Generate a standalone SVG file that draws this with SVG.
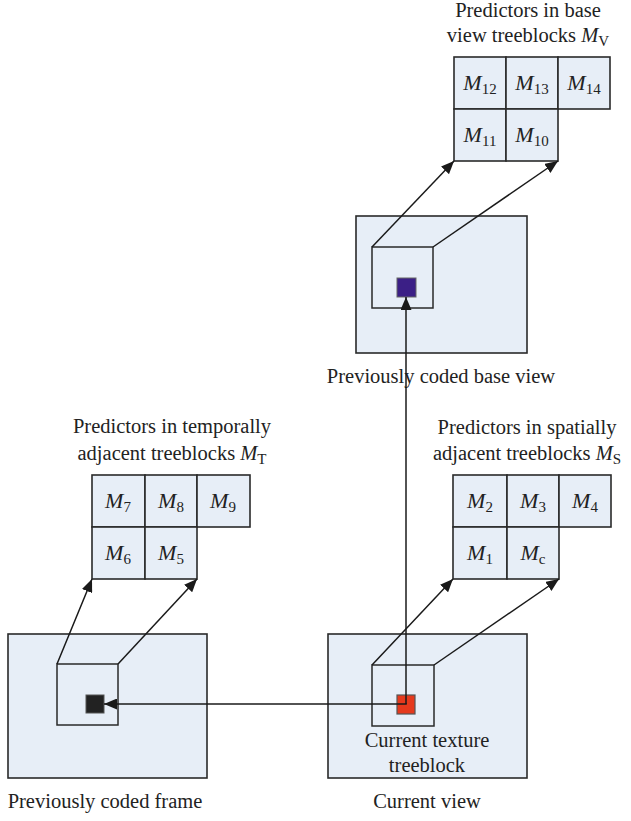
<svg xmlns="http://www.w3.org/2000/svg" width="631" height="821" viewBox="0 0 631 821">
  <defs>
    <marker id="arrow" viewBox="0 0 13 11" refX="13" refY="5.5" markerWidth="13" markerHeight="11" markerUnits="userSpaceOnUse" orient="auto">
      <path d="M0,0 L13,5.5 L0,11 Z" fill="#1a1a1a"/>
    </marker>
  </defs>
  <style>
    text { font-family: "Liberation Serif", "DejaVu Serif", serif; fill: #222; }
    .lbl { font-size: 20.5px; text-anchor: middle; }
    .m { font-size: 22px; text-anchor: middle; }
    .it { font-style: italic; }
    .sub { font-size: 15px; }
    .frame { fill: #e7eef7; stroke: #2a2a2a; stroke-width: 1.6; }
    .cell { fill: #e7eef7; stroke: #2a2a2a; stroke-width: 1.6; }
    .inner { fill: none; stroke: #2a2a2a; stroke-width: 1.5; }
    .conn { fill: none; stroke: #1a1a1a; stroke-width: 1.5; }
  </style>
  <rect width="631" height="821" fill="#ffffff"/>

  <!-- Base view predictor grid -->
  <g id="grid-base">
    <text class="lbl" x="528" y="17">Predictors in base</text>
    <text class="lbl" x="528" y="42">view treeblocks <tspan class="it">M</tspan><tspan class="sub" dy="4">V</tspan></text>
    <rect class="cell" x="454" y="57" width="52" height="52"/>
    <rect class="cell" x="506" y="57" width="52" height="52"/>
    <rect class="cell" x="558" y="57" width="52" height="52"/>
    <rect class="cell" x="454" y="109" width="52" height="52"/>
    <rect class="cell" x="506" y="109" width="52" height="52"/>
    <text class="m" x="480" y="90"><tspan class="it">M</tspan><tspan class="sub" dy="4">12</tspan></text>
    <text class="m" x="532" y="90"><tspan class="it">M</tspan><tspan class="sub" dy="4">13</tspan></text>
    <text class="m" x="584" y="90"><tspan class="it">M</tspan><tspan class="sub" dy="4">14</tspan></text>
    <text class="m" x="480" y="142"><tspan class="it">M</tspan><tspan class="sub" dy="4">11</tspan></text>
    <text class="m" x="532" y="142"><tspan class="it">M</tspan><tspan class="sub" dy="4">10</tspan></text>
  </g>

  <!-- Previously coded base view -->
  <g id="frame-base">
    <rect class="frame" x="356" y="216" width="171" height="137"/>
    <rect class="inner" x="372" y="247" width="61" height="61"/>
    <rect x="397" y="278" width="19" height="19" fill="#3b1f86" stroke="#666" stroke-width="1"/>
    <text class="lbl" x="441" y="383">Previously coded base view</text>
  </g>

  <!-- Temporally adjacent predictor grid -->
  <g id="grid-temporal">
    <text class="lbl" x="172" y="433">Predictors in temporally</text>
    <text class="lbl" x="172" y="460">adjacent treeblocks <tspan class="it">M</tspan><tspan class="sub" dy="4">T</tspan></text>
    <rect class="cell" x="92" y="475" width="53" height="52"/>
    <rect class="cell" x="145" y="475" width="52" height="52"/>
    <rect class="cell" x="197" y="475" width="53" height="52"/>
    <rect class="cell" x="92" y="527" width="53" height="52"/>
    <rect class="cell" x="145" y="527" width="52" height="52"/>
    <text class="m" x="118" y="508"><tspan class="it">M</tspan><tspan class="sub" dy="4">7</tspan></text>
    <text class="m" x="171" y="508"><tspan class="it">M</tspan><tspan class="sub" dy="4">8</tspan></text>
    <text class="m" x="223" y="508"><tspan class="it">M</tspan><tspan class="sub" dy="4">9</tspan></text>
    <text class="m" x="118" y="560"><tspan class="it">M</tspan><tspan class="sub" dy="4">6</tspan></text>
    <text class="m" x="171" y="560"><tspan class="it">M</tspan><tspan class="sub" dy="4">5</tspan></text>
  </g>

  <!-- Spatially adjacent predictor grid -->
  <g id="grid-spatial">
    <text class="lbl" x="527" y="434">Predictors in spatially</text>
    <text class="lbl" x="527" y="460">adjacent treeblocks <tspan class="it">M</tspan><tspan class="sub" dy="4">S</tspan></text>
    <rect class="cell" x="453" y="475" width="54" height="52"/>
    <rect class="cell" x="507" y="475" width="52" height="52"/>
    <rect class="cell" x="559" y="475" width="52" height="52"/>
    <rect class="cell" x="453" y="527" width="54" height="52"/>
    <rect class="cell" x="507" y="527" width="52" height="52"/>
    <text class="m" x="480" y="508"><tspan class="it">M</tspan><tspan class="sub" dy="4">2</tspan></text>
    <text class="m" x="533" y="508"><tspan class="it">M</tspan><tspan class="sub" dy="4">3</tspan></text>
    <text class="m" x="585" y="508"><tspan class="it">M</tspan><tspan class="sub" dy="4">4</tspan></text>
    <text class="m" x="480" y="560"><tspan class="it">M</tspan><tspan class="sub" dy="4">1</tspan></text>
    <text class="m" x="533" y="560"><tspan class="it">M</tspan><tspan class="sub" dy="4">c</tspan></text>
  </g>

  <!-- Previously coded frame -->
  <g id="frame-previous">
    <rect class="frame" x="8" y="634" width="199" height="144"/>
    <rect class="inner" x="57" y="664" width="61" height="61"/>
    <rect x="86" y="695" width="18" height="18" fill="#222222" stroke="#555" stroke-width="1"/>
    <text class="lbl" x="105" y="808">Previously coded frame</text>
  </g>

  <!-- Current view -->
  <g id="frame-current">
    <rect class="frame" x="328" y="634" width="199" height="144"/>
    <rect class="inner" x="372" y="665" width="62" height="61"/>
    <rect x="397" y="695" width="18" height="19" fill="#e5391d" stroke="#555" stroke-width="1.2"/>
    <text class="lbl" x="427" y="747">Current texture</text>
    <text class="lbl" x="427" y="772">treeblock</text>
    <text class="lbl" x="427" y="808">Current view</text>
  </g>

  <!-- Connectors -->
  <g id="connectors">
    <line class="conn" x1="372" y1="247" x2="454" y2="161" marker-end="url(#arrow)"/>
    <line class="conn" x1="433" y1="247" x2="558" y2="161" marker-end="url(#arrow)"/>
    <line class="conn" x1="57" y1="664" x2="92" y2="579" marker-end="url(#arrow)"/>
    <line class="conn" x1="118" y1="664" x2="197" y2="579" marker-end="url(#arrow)"/>
    <line class="conn" x1="372" y1="665" x2="453" y2="579" marker-end="url(#arrow)"/>
    <line class="conn" x1="434" y1="665" x2="559" y2="579" marker-end="url(#arrow)"/>
    <line class="conn" x1="406" y1="704" x2="406" y2="297" marker-end="url(#arrow)"/>
    <line class="conn" x1="406.75" y1="704" x2="104" y2="704" marker-end="url(#arrow)"/>
  </g>
</svg>
